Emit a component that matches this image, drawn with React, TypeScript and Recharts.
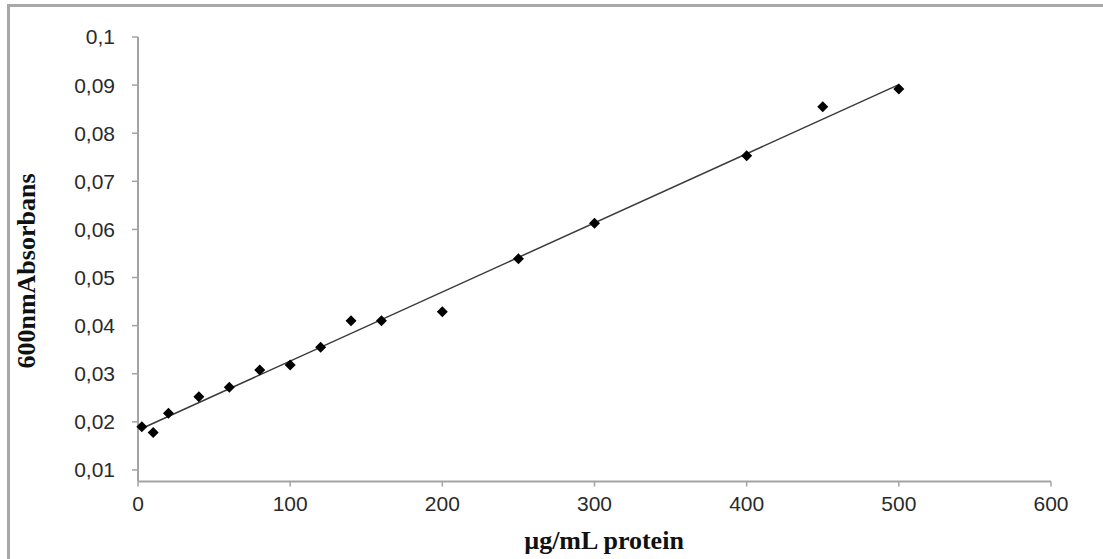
import { ScatterChart, Scatter, XAxis, YAxis, Label } from 'recharts';

// protein concentration (µg/mL) and absorbance at 600 nm
const concentrations = [2.5, 10, 20, 40, 60, 80, 100, 120, 140, 160, 200, 250, 300, 400, 450, 500];
const absorbances = [
  0.019, 0.0178, 0.0218, 0.0252, 0.0272, 0.0308, 0.0318, 0.0355, 0.041, 0.041, 0.0429, 0.0539,
  0.0613, 0.0753, 0.0855, 0.0892,
];

const xTicks = [0, 100, 200, 300, 400, 500, 600];
const yTicks = [0.01, 0.02, 0.03, 0.04, 0.05, 0.06, 0.07, 0.08, 0.09, 0.1];

const points = concentrations.map((x, i) => ({ x, y: absorbances[i] }));

// linear trendline (least squares), drawn across the measured range like Excel does
const n = points.length;
const meanX = concentrations.reduce((a, b) => a + b, 0) / n;
const meanY = absorbances.reduce((a, b) => a + b, 0) / n;
const slope =
  points.reduce((s, p) => s + (p.x - meanX) * (p.y - meanY), 0) /
  points.reduce((s, p) => s + (p.x - meanX) ** 2, 0);
const intercept = meanY - slope * meanX;
const xMin = Math.min(...concentrations);
const xMax = Math.max(...concentrations);
const trend = [
  { x: xMin, y: intercept + slope * xMin },
  { x: xMax, y: intercept + slope * xMax },
];

const axisColor = '#a3a3a3';
const tickStyle = { fontFamily: '"Liberation Sans", Arial, sans-serif', fontSize: 21, fill: '#2a2a2a' };
const titleStyle = { fontFamily: '"Liberation Serif", "Times New Roman", serif', fontSize: 26, fontWeight: 'bold' as const, fill: '#111' };

const Diamond = (props: any) => {
  const { cx, cy } = props;
  const r = 5.5;
  return <polygon points={`${cx},${cy - r} ${cx + r},${cy} ${cx},${cy + r} ${cx - r},${cy}`} fill="#000" />;
};

const fmt = (v: number) => String(Number(v.toFixed(2))).replace('.', ',');

export default function App() {
  return (
    <div style={{ position: 'absolute', left: 0, top: 0, width: 1103, height: 559, background: '#fff' }}>
      <div
        style={{
          position: 'absolute',
          left: 7,
          top: 4,
          right: 0,
          bottom: 0,
          borderTop: '3px solid #a8a8a8',
          borderLeft: '3px solid #a8a8a8',
        }}
      />
      <ScatterChart width={1103} height={559} margin={{ top: 37, right: 52, left: 38, bottom: 47.5 }} style={{ position: 'absolute', left: 0, top: 0 }}>
        <XAxis
          type="number"
          dataKey="x"
          domain={[0, 600]}
          ticks={xTicks}
          height={30}
          stroke={axisColor}
          strokeWidth={2}
          tickSize={5}
          tickMargin={10}
          tick={tickStyle}
          tickLine={{ stroke: axisColor, strokeWidth: 1.5 }}
        >
          <Label
            content={() => (
              <text x={604} y={549} textAnchor="middle" style={titleStyle}>
                µg/mL protein
              </text>
            )}
          />
        </XAxis>
        <YAxis
          type="number"
          dataKey="y"
          domain={[0.0076, 0.1]}
          ticks={yTicks}
          tickFormatter={fmt}
          width={100}
          stroke={axisColor}
          strokeWidth={2}
          tickSize={6}
          tickMargin={17}
          tick={tickStyle}
          tickLine={{ stroke: axisColor, strokeWidth: 1.5 }}
          allowDataOverflow
        >
          <Label
            content={() => (
              <text x={35} y={271} textAnchor="middle" transform="rotate(-90 35 271)" style={titleStyle}>
                600nmAbsorbans
              </text>
            )}
          />
        </YAxis>
        <Scatter
          data={trend}
          line={{ stroke: '#3a3a3a', strokeWidth: 1.5 }}
          lineType="joint"
          shape={() => <g />}
          isAnimationActive={false}
        />
        <Scatter data={points} shape={Diamond} fill="#000" isAnimationActive={false} />
      </ScatterChart>
    </div>
  );
}
